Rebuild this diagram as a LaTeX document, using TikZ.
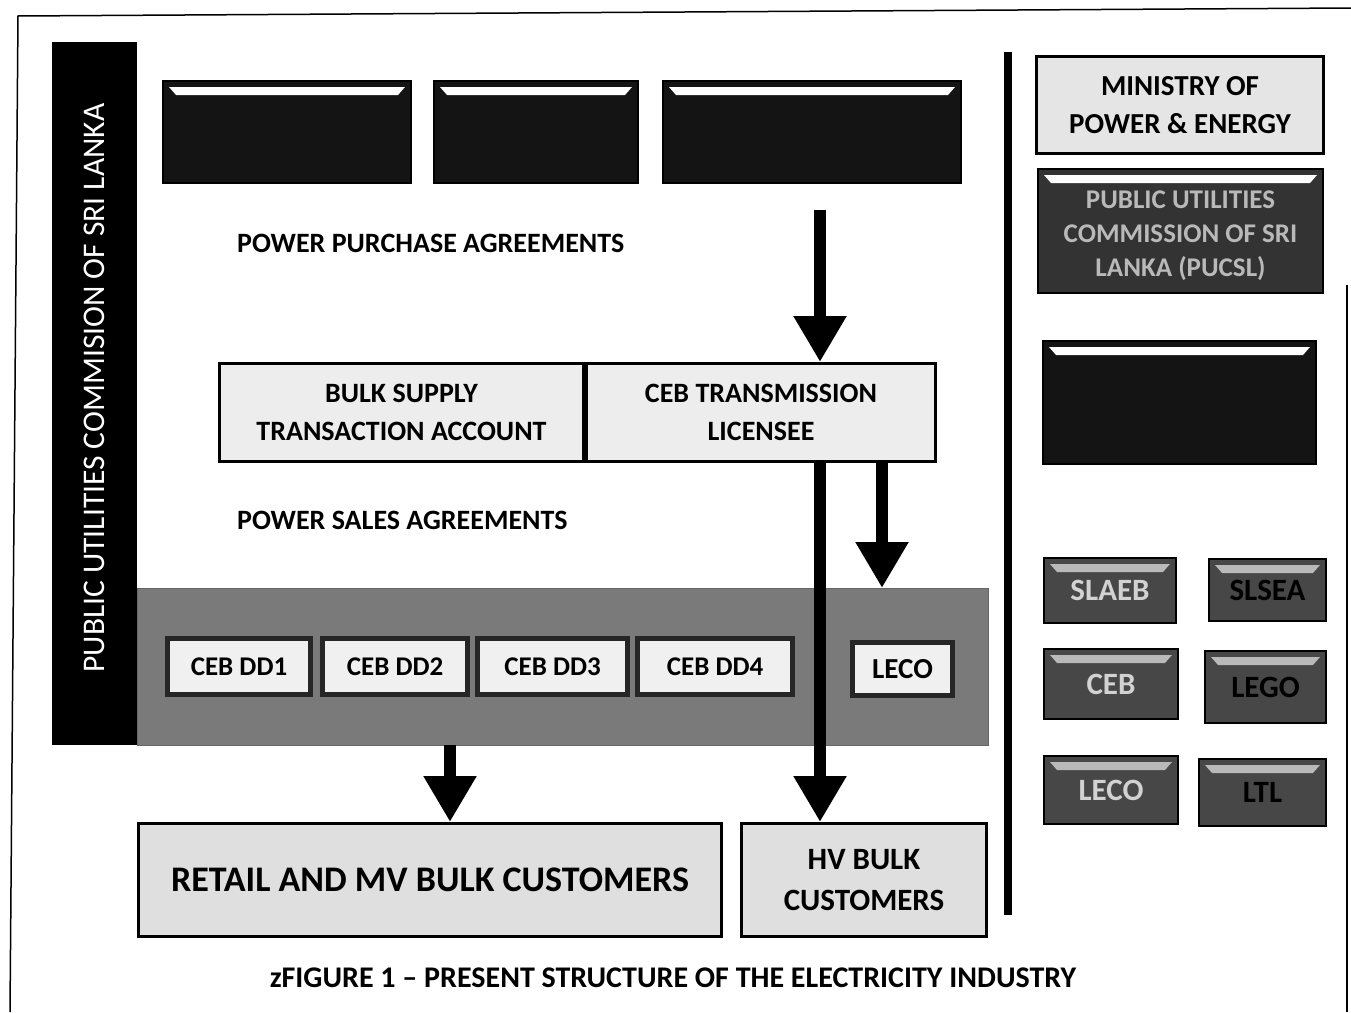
\documentclass[tikz,border=0pt]{standalone}
\usepackage{fontspec}
\setmainfont{Carlito}
\usetikzlibrary{arrows.meta,calc}
\tikzset{
  lightbox/.style={draw=black,line width=3pt,fill=gray!14,inner sep=0pt,font=\bfseries,align=center},
  darkbox/.style={draw=black,line width=2pt,fill=black!92,inner sep=0pt,align=center},
  ddbox/.style={draw=black!85,line width=5pt,fill=gray!12,inner sep=0pt,font=\bfseries\fontsize{27}{29}\selectfont},
  bigarrow/.style={line width=12pt,-{Triangle[width=50pt,length=46pt]}},
  lbl/.style={font=\bfseries\fontsize{28}{30}\selectfont,anchor=west,inner sep=0pt},
}
\newcommand{\bevelhi}[2][white]{\fill[#1] ($(#2.north west)+(7,7)$) -- ($(#2.north east)+(-7,7)$) -- ($(#2.north east)+(-14,15)$) -- ($(#2.north west)+(14,15)$) -- cycle;}
\begin{document}
\begin{tikzpicture}[x=1pt,y=-1pt]
\useasboundingbox (0,0) rectangle (1351,1012);
\fill[white] (0,0) rectangle (1351,1012);
% outer frame
\draw[line width=1.5pt] (10,1012) -- (18,16) -- (1351,8);
\draw[line width=1.5pt] (1347,285) -- (1347,1012);

% left bar
\node[fill=black,minimum width=85pt,minimum height=703pt,inner sep=0pt,anchor=north west] (pucbar) at (52,42) {};
\node[rotate=90,text=white,font=\fontsize{31.5}{33}\selectfont] (puctxt) at (pucbar.center |- 0,388) {PUBLIC UTILITIES COMMISION OF SRI LANKA};

% top dark boxes
\node[darkbox,minimum width=248pt,minimum height=102pt,anchor=north west] (gen1) at (162,80) {};
\node[darkbox,minimum width=204pt,minimum height=102pt,anchor=north west] (gen2) at (433,80) {};
\node[darkbox,minimum width=298pt,minimum height=102pt,anchor=north west] (gen3) at (662,80) {};
\bevelhi{gen1}\bevelhi{gen2}\bevelhi{gen3}

\node[lbl] (ppa) at (237,243) {POWER PURCHASE AGREEMENTS};
\node[lbl] (psa) at (237,520) {POWER SALES AGREEMENTS};

% bulk / transmission
\node[lightbox,minimum width=364pt,minimum height=98pt,anchor=north west,font=\bfseries\fontsize{28}{38}\selectfont] (bulk) at (218,362) {BULK SUPPLY\\TRANSACTION ACCOUNT};
\node[lightbox,minimum width=349pt,minimum height=98pt,anchor=north west,font=\bfseries\fontsize{28}{38}\selectfont] (ceb) at (585,362) {CEB TRANSMISSION\\LICENSEE};

% distribution band
\node[fill=black!52,draw=black!60,minimum width=851pt,minimum height=157pt,inner sep=0pt,anchor=north west] (band) at (137,588) {};
\node[ddbox,minimum width=143pt,minimum height=56pt,anchor=north west] (dd1) at (165,636) {CEB DD1};
\node[ddbox,minimum width=145pt,minimum height=56pt,anchor=north west] (dd2) at (320,636) {CEB DD2};
\node[ddbox,minimum width=150pt,minimum height=56pt,anchor=north west] (dd3) at (475,636) {CEB DD3};
\node[ddbox,minimum width=155pt,minimum height=56pt,anchor=north west] (dd4) at (635,636) {CEB DD4};
\node[ddbox,minimum width=100pt,minimum height=53pt,anchor=north west,font=\bfseries\fontsize{29}{31}\selectfont] (leco) at (850,640) {LECO};

% customers
\node[lightbox,fill=gray!25,minimum width=583pt,minimum height=113pt,anchor=north west,font=\bfseries\fontsize{36}{40}\selectfont] (retail) at (137,822) {RETAIL AND MV BULK CUSTOMERS};
\node[lightbox,fill=gray!25,minimum width=245pt,minimum height=113pt,anchor=north west,font=\bfseries\fontsize{31}{41}\selectfont] (hv) at (740,822) {HV BULK\\CUSTOMERS};

% arrows
\coordinate (src) at (820,210);
\draw[bigarrow] (src) -- (src |- ceb.north);
\draw[bigarrow] (ceb.south -| 820,0) -- (hv.north -| 820,0);
\draw[bigarrow] (ceb.south -| 882,0) -- (band.north -| 882,0);
\draw[bigarrow] (band.south -| 450,0) -- (retail.north -| 450,0);

% right column
\draw[line width=8pt] (1008,52) coordinate (vtop) -- (1008,915) coordinate (vbot);
\node[lightbox,fill=gray!20,minimum width=287pt,minimum height=97pt,anchor=north west,font=\bfseries\fontsize{29}{38}\selectfont] (min) at (1035,55) {MINISTRY OF\\POWER \& ENERGY};
\node[darkbox,fill=black!80,minimum width=285pt,minimum height=124pt,anchor=north west] (pucsl) at (1037,168) {};
\bevelhi{pucsl}
\node[text=gray!55,align=center,font=\bfseries\fontsize{27}{34}\selectfont,inner sep=0pt] (pucsltxt) at ($(pucsl.center)+(0,5)$) {PUBLIC UTILITIES\\COMMISSION OF SRI\\LANKA (PUCSL)};
\node[darkbox,minimum width=273pt,minimum height=123pt,anchor=north west] (blk) at (1042,340) {};
\bevelhi{blk}

\tikzset{small/.style={darkbox,fill=black!72,font=\bfseries\fontsize{31}{33}\selectfont,text=gray!35}}
\node[small,minimum width=132pt,minimum height=65pt,anchor=north west] (slaeb) at (1043,557) {SLAEB};
\node[small,minimum width=117pt,minimum height=62pt,anchor=north west,text=black] (slsea) at (1208,558) {SLSEA};
\node[small,minimum width=134pt,minimum height=70pt,anchor=north west] (cebs) at (1043,648) {CEB};
\node[small,minimum width=121pt,minimum height=72pt,anchor=north west,text=black] (lego) at (1204,650) {LEGO};
\node[small,minimum width=134pt,minimum height=68pt,anchor=north west] (lecos) at (1043,755) {LECO};
\node[small,minimum width=127pt,minimum height=67pt,anchor=north west,text=black] (ltl) at (1198,758) {LTL};
\foreach \n in {slaeb,slsea,cebs,lego,lecos,ltl} {\bevelhi[gray!55]{\n}}

% caption
\node[font=\bfseries\fontsize{30}{32}\selectfont,inner sep=0pt] (cap) at (673,978) {zFIGURE 1 -- PRESENT STRUCTURE OF THE ELECTRICITY INDUSTRY};
\end{tikzpicture}
\end{document}
